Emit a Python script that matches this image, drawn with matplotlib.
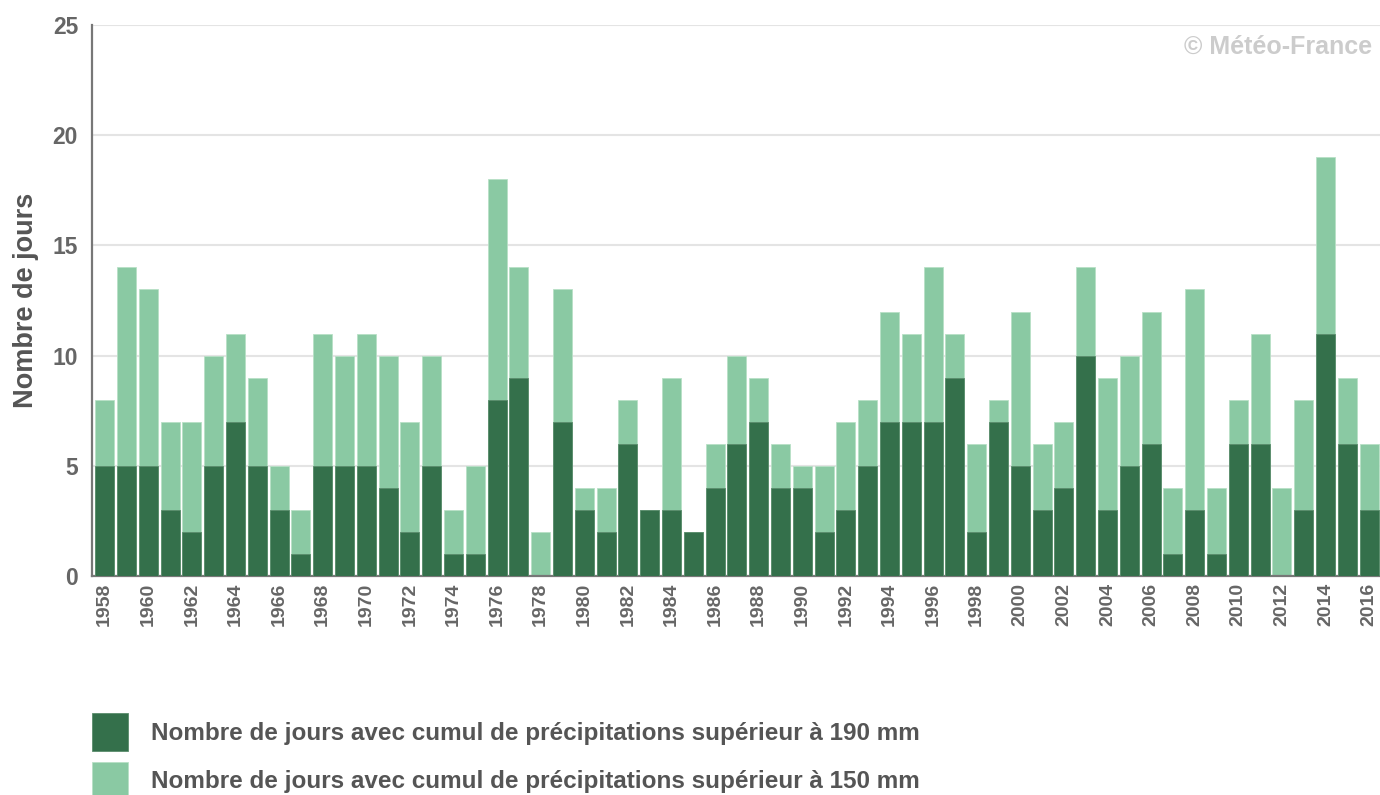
import matplotlib
matplotlib.use('Agg')
import matplotlib.pyplot as plt
import numpy as np

# Années
annees = list(range(1958, 2017))

# Nombre de jours avec cumul > 150 mm (hauteur totale de la barre claire)
jours_150 = [8, 14, 13, 7, 7, 10, 11, 9, 5, 3,
             11, 10, 11, 10, 7, 10, 3, 5, 18, 14,
             2, 13, 4, 4, 8, 3, 9, 2, 6, 10,
             9, 6, 5, 5, 7, 8, 12, 11, 14, 11,
             6, 8, 12, 6, 7, 14, 9, 10, 12, 4,
             13, 4, 8, 11, 4, 8, 19, 9, 6]

# Nombre de jours avec cumul > 190 mm (barre foncee)
jours_190 = [5, 5, 5, 3, 2, 5, 7, 5, 3, 1,
             5, 5, 5, 4, 2, 5, 1, 1, 8, 9,
             0, 7, 3, 2, 6, 3, 3, 2, 4, 6,
             7, 4, 4, 2, 3, 5, 7, 7, 7, 9,
             2, 7, 5, 3, 4, 10, 3, 5, 6, 1,
             3, 1, 6, 6, 0, 3, 11, 6, 3]

label_190 = 'Nombre de jours avec cumul de précipitations supérieur à 190 mm'
label_150 = 'Nombre de jours avec cumul de précipitations supérieur à 150 mm'

plt.rcParams['font.family'] = ['Liberation Sans', 'DejaVu Sans']

couleur_fonce = '#34704b'
couleur_clair = '#8ac9a3'
gris = '#666666'

fig = plt.figure(figsize=(13.8, 7.95), dpi=100)
ax = fig.add_axes([92 / 1380, 1 - 576 / 795, 1 - 92 / 1380, (576 - 25) / 795])

x = np.arange(len(annees))
b150 = ax.bar(x, jours_150, width=0.87, color=couleur_clair, edgecolor='#b8e0c6',
              linewidth=0.6, zorder=2, label=label_150)
b190 = ax.bar(x, jours_190, width=0.87, color=couleur_fonce, edgecolor='#5a8c6c',
              linewidth=0.6, zorder=3, label=label_190)

ax.set_xlim(-0.58, len(annees) - 0.5)
ax.set_ylim(0, 25)
ax.set_yticks([0, 5, 10, 15, 20, 25])
ax.grid(axis='y', color='#e4e4e4', linewidth=1.5, zorder=0)
ax.set_axisbelow(True)

ax.set_xticks(x[::2])
ax.set_xticklabels([str(a) for a in annees[::2]], rotation=90)
ax.tick_params(axis='x', length=0, pad=5, labelsize=14, labelcolor=gris)
ax.tick_params(axis='y', length=0, pad=10, labelsize=16.5, labelcolor=gris)
for lab in ax.get_xticklabels() + ax.get_yticklabels():
    lab.set_fontweight('bold')

for s in ['top', 'right']:
    ax.spines[s].set_visible(False)
ax.spines['left'].set_color('#777777')
ax.spines['left'].set_linewidth(1.6)
ax.spines['bottom'].set_color('#777777')
ax.spines['bottom'].set_linewidth(1.6)

ax.set_ylabel('Nombre de jours', fontsize=19.5, fontweight='bold', color='#555555')
ax.yaxis.set_label_coords(-0.041, 0.5)

# Copyright
ax.text(0.994, 0.96, '© Météo-France', transform=ax.transAxes, ha='right', va='center',
        fontsize=18, fontweight='bold', color='#cccccc')

# Légende sous le graphique
leg = fig.legend(handles=[b190, b150], labels=[label_190, label_150],
                 loc='upper left', bbox_to_anchor=(92 / 1380, 1 - 713 / 795),
                 frameon=False, borderpad=0, borderaxespad=0,
                 handlelength=1.5, handleheight=2.01, handletextpad=0.94,
                 labelspacing=0.46, prop={'size': 17.5, 'weight': 'bold'})
for t in leg.get_texts():
    t.set_color('#555555')

fig.savefig('out.png', dpi=100)
